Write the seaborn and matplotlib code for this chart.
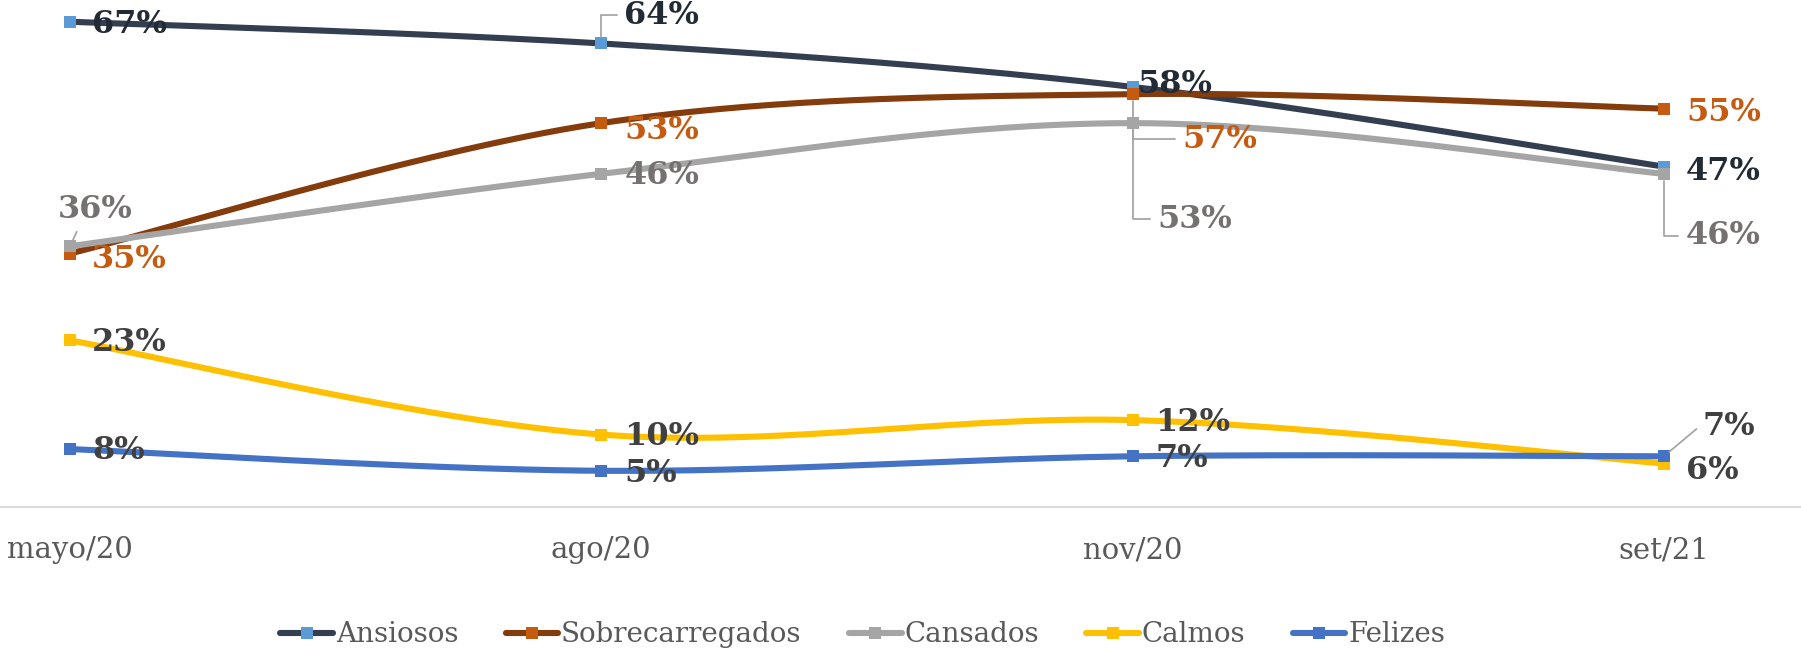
import numpy as np
import pandas as pd
import matplotlib
matplotlib.use("Agg")
import matplotlib.pyplot as plt
from matplotlib.lines import Line2D
import seaborn as sns

# Data
months = ["mayo/20", "ago/20", "nov/20", "set/21"]
series_names = ["Ansiosos", "Sobrecarregados", "Cansados", "Calmos", "Felizes"]
ansiosos = [67, 64, 58, 47]
sobrecarregados = [35, 53, 57, 55]
cansados = [36, 46, 53, 46]
calmos = [23, 10, 12, 6]
felizes = [8, 5, 7, 7]
values = [ansiosos, sobrecarregados, cansados, calmos, felizes]

# Styles
line_colors = ["#333F50", "#843C0C", "#A5A5A5", "#FFC000", "#4472C4"]
marker_colors = ["#5B9BD5", "#C55A11", "#A5A5A5", "#FFC000", "#4472C4"]
label_colors = ["#222A35", "#C55A11", "#767171", "#404040", "#404040"]

# label offsets in pixels (dx, dy) and leader line style (None = no leader)
label_offsets = [
    [(22, -3), (23, 28), (5, 2), (22, -5)],
    [(22, -6), (23, -7), (50, -45), (22, -4)],
    [(25, 37), (23, -2), (25, -96), (22, -62)],
    [(22, -2), (23, -2), (23, -2), (22, -7)],
    [(22, -1), (23, -3), (23, -2), (39, 30)],
]
elbow = "angle,angleA=0,angleB=90,rad=0"
leaders = [
    [None, elbow, None, None],
    [None, None, elbow, None],
    ["arc3", None, elbow, elbow],
    [None, None, None, None],
    [None, None, None, "angle,angleA=0,angleB=40,rad=0"],
]


def smooth(y, n=60):
    # Bezier smoothing like the spreadsheet "smoothed line"
    x = np.arange(len(y), dtype=float)
    y = np.asarray(y, dtype=float)
    px = np.concatenate([[x[0]], x, [x[-1]]])
    py = np.concatenate([[y[0]], y, [y[-1]]])
    xs, ys = [], []
    for i in range(1, len(px) - 2):
        p0, p1, p2, p3 = [np.array([px[j], py[j]]) for j in (i - 1, i, i + 1, i + 2)]
        c1 = p1 + (p2 - p0) / 6
        c2 = p2 - (p3 - p1) / 6
        t = np.linspace(0, 1, n)[:, None]
        pts = ((1 - t) ** 3) * p1 + 3 * ((1 - t) ** 2) * t * c1 + 3 * (1 - t) * t ** 2 * c2 + t ** 3 * p2
        xs.extend(pts[:, 0])
        ys.extend(pts[:, 1])
    return np.array(xs), np.array(ys)


sns.set_theme(style="white")
plt.rcParams["font.family"] = ["DejaVu Serif"]

fig = plt.figure(figsize=(18.01, 6.56), dpi=100)
ax = fig.add_axes([0, 1 - 507 / 656, 1, 507 / 656])

for k, name in enumerate(series_names):
    xs, ys = smooth(values[k])
    curve = pd.DataFrame({"x": xs, "y": ys})
    sns.lineplot(data=curve, x="x", y="y", ax=ax, color=line_colors[k],
                 linewidth=4.4, sort=False, estimator=None, zorder=2 + k)
    pts = pd.DataFrame({"x": np.arange(len(months)), "y": values[k]})
    sns.scatterplot(data=pts, x="x", y="y", ax=ax, color=marker_colors[k],
                    marker="s", s=64, linewidth=0, zorder=2.5 + k)

for k, name in enumerate(series_names):
    for i, v in enumerate(values[k]):
        dx, dy = label_offsets[k][i]
        ha = "center" if (k == 2 and i == 0) else "left"
        kw = {}
        style = leaders[k][i]
        if style is not None:
            relpos = (0.3, 0.0) if style == "arc3" else (0.0, 0.5)
            kw["arrowprops"] = dict(arrowstyle="-", color="#A6A6A6", lw=1.3,
                                    shrinkA=3, shrinkB=5, relpos=relpos,
                                    connectionstyle=style)
        ax.annotate(f"{v}%", xy=(i, v), xytext=(dx, dy), textcoords="offset pixels",
                    ha=ha, va="center", fontsize=23, fontweight="bold",
                    color=label_colors[k], zorder=20, **kw)

ax.set_xlim(-70 / 531.3, (1801 - 70) / 531.3)
ax.set_ylim(0, 70)
ax.set_xticks(range(len(months)))
ax.set_xticklabels(months)
ax.set_yticks([])
ax.set_xlabel("")
ax.set_ylabel("")
ax.tick_params(axis="x", length=0, pad=21, labelsize=21, labelcolor="#595959")
for s in ["top", "left", "right"]:
    ax.spines[s].set_visible(False)
ax.spines["bottom"].set_color("#D9D9D9")
ax.spines["bottom"].set_linewidth(1.5)

handles = [Line2D([0], [0], color=line_colors[k], lw=4.4, marker="s",
                  markersize=8, markerfacecolor=marker_colors[k],
                  markeredgewidth=0) for k in range(len(series_names))]
fig.legend(handles, series_names, loc="center", bbox_to_anchor=(0.479, 1 - 635 / 656),
           ncol=5, frameon=False, fontsize=20, labelcolor="#595959",
           handlelength=1.9, handletextpad=0.1, columnspacing=1.7)

fig.savefig("out.png", dpi=100)
